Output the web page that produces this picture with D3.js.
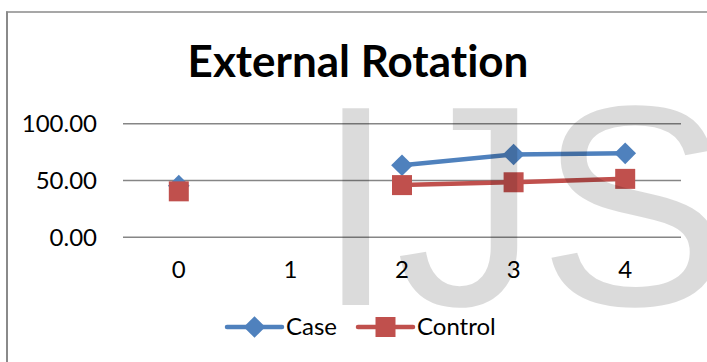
<!DOCTYPE html>
<html>
<head>
<meta charset="utf-8">
<script src="https://cdn.jsdelivr.net/npm/d3@7"></script>
<style>
  html, body { margin: 0; padding: 0; background: #fff; }
  svg { display: block; }
  text { font-variant-ligatures: none; }
</style>
</head>
<body>
<svg id="chart" width="707" height="362"></svg>
<script>
// Measurement sessions and mean external rotation per group
const categories = ["0", "1", "2", "3", "4"];
const caseValues = [45, null, 63, 72.5, 73.5];
const controlValues = [40, null, 45.5, 48, 51];
const yTicks = [0, 50, 100];
const seriesNames = ["Case", "Control"];

const W = 707, H = 362;
const svg = d3.select("#chart");
const font = "Lato, 'Open Sans', sans-serif";
const blue = "#4F81BD", red = "#C0504D";

// Chart frame (left and top edges visible)
svg.append("line").attr("x1", 7).attr("x2", 7).attr("y1", 11.5).attr("y2", H)
  .attr("stroke", "#8a8a8a").attr("stroke-width", 2);
svg.append("line").attr("x1", 6).attr("x2", W).attr("y1", 12).attr("y2", 12)
  .attr("stroke", "#8a8a8a").attr("stroke-width", 1.5);

// Title
svg.append("text").attr("x", 358).attr("y", 77)
  .attr("text-anchor", "middle")
  .attr("font-family", font).attr("font-weight", 700).attr("font-size", 44)
  .attr("fill", "#000").text("External Rotation");

// Scales
const x = d3.scaleBand().domain(categories).range([123, 681]);
const y = d3.scaleLinear().domain([0, 100]).range([236.7, 123.3]);

// Horizontal gridlines
const yAxis = d3.axisLeft(y).tickValues(yTicks).tickSize(-(681 - 123)).tickFormat(d3.format(".2f"));
const gy = svg.append("g").attr("transform", "translate(123,0)").call(yAxis);
gy.select(".domain").remove();
gy.selectAll(".tick line").attr("stroke", "#868686").attr("stroke-width", 1.5);
gy.selectAll(".tick text").attr("x", -26).attr("dy", "0.35em")
  .attr("font-family", font).attr("font-size", 24).attr("fill", "#000");

// Category labels
const xAxis = d3.axisBottom(x).tickSize(0);
const gx = svg.append("g").attr("transform", "translate(0,236.7)").call(xAxis);
gx.select(".domain").remove();
gx.selectAll(".tick text").attr("y", 33).attr("dy", "0.35em")
  .attr("font-family", font).attr("font-size", 24).attr("fill", "#000");

const cx = d => x(d) + x.bandwidth() / 2;
const diamond = d3.symbol().type(d3.symbolDiamond2).size(300);
const square = d3.symbol().type(d3.symbolSquare).size(400);

function drawSeries(values, color, sym) {
  const pts = categories.map((c, i) => ({ c, v: values[i] }));
  const line = d3.line().defined(d => d.v != null).x(d => cx(d.c)).y(d => y(d.v));
  svg.append("path").datum(pts).attr("d", line)
    .attr("fill", "none").attr("stroke", color).attr("stroke-width", 4.5)
    .attr("stroke-linejoin", "round").attr("stroke-linecap", "round");
  svg.append("g").selectAll("path").data(pts.filter(d => d.v != null)).join("path")
    .attr("d", sym)
    .attr("transform", d => `translate(${cx(d.c)},${y(d.v)})`)
    .attr("fill", color);
}
drawSeries(caseValues, blue, diamond);
drawSeries(controlValues, red, square);

// Legend
const legendItems = [
  { name: seriesNames[0], color: blue, sym: diamond, x0: 227 },
  { name: seriesNames[1], color: red, sym: square, x0: 358 }
];
const ly = 327;
legendItems.forEach(it => {
  const g = svg.append("g");
  g.append("line").attr("x1", it.x0).attr("x2", it.x0 + 55).attr("y1", ly).attr("y2", ly)
    .attr("stroke", it.color).attr("stroke-width", 4.5).attr("stroke-linecap", "round");
  g.append("path").attr("d", it.sym).attr("transform", `translate(${it.x0 + 27.5},${ly})`)
    .attr("fill", it.color);
  g.append("text").attr("x", it.x0 + 59).attr("y", ly).attr("dy", "0.35em")
    .attr("font-family", font).attr("font-size", 24).attr("fill", "#000").text(it.name);
});

// Watermark lettering over the plot
svg.append("text").attr("x", 316).attr("y", 305)
  .attr("font-family", "'Liberation Sans', Arial, sans-serif").attr("font-size", 286)
  .attr("fill", "#000").attr("fill-opacity", 0.14).text("IJS");
</script>
</body>
</html>
